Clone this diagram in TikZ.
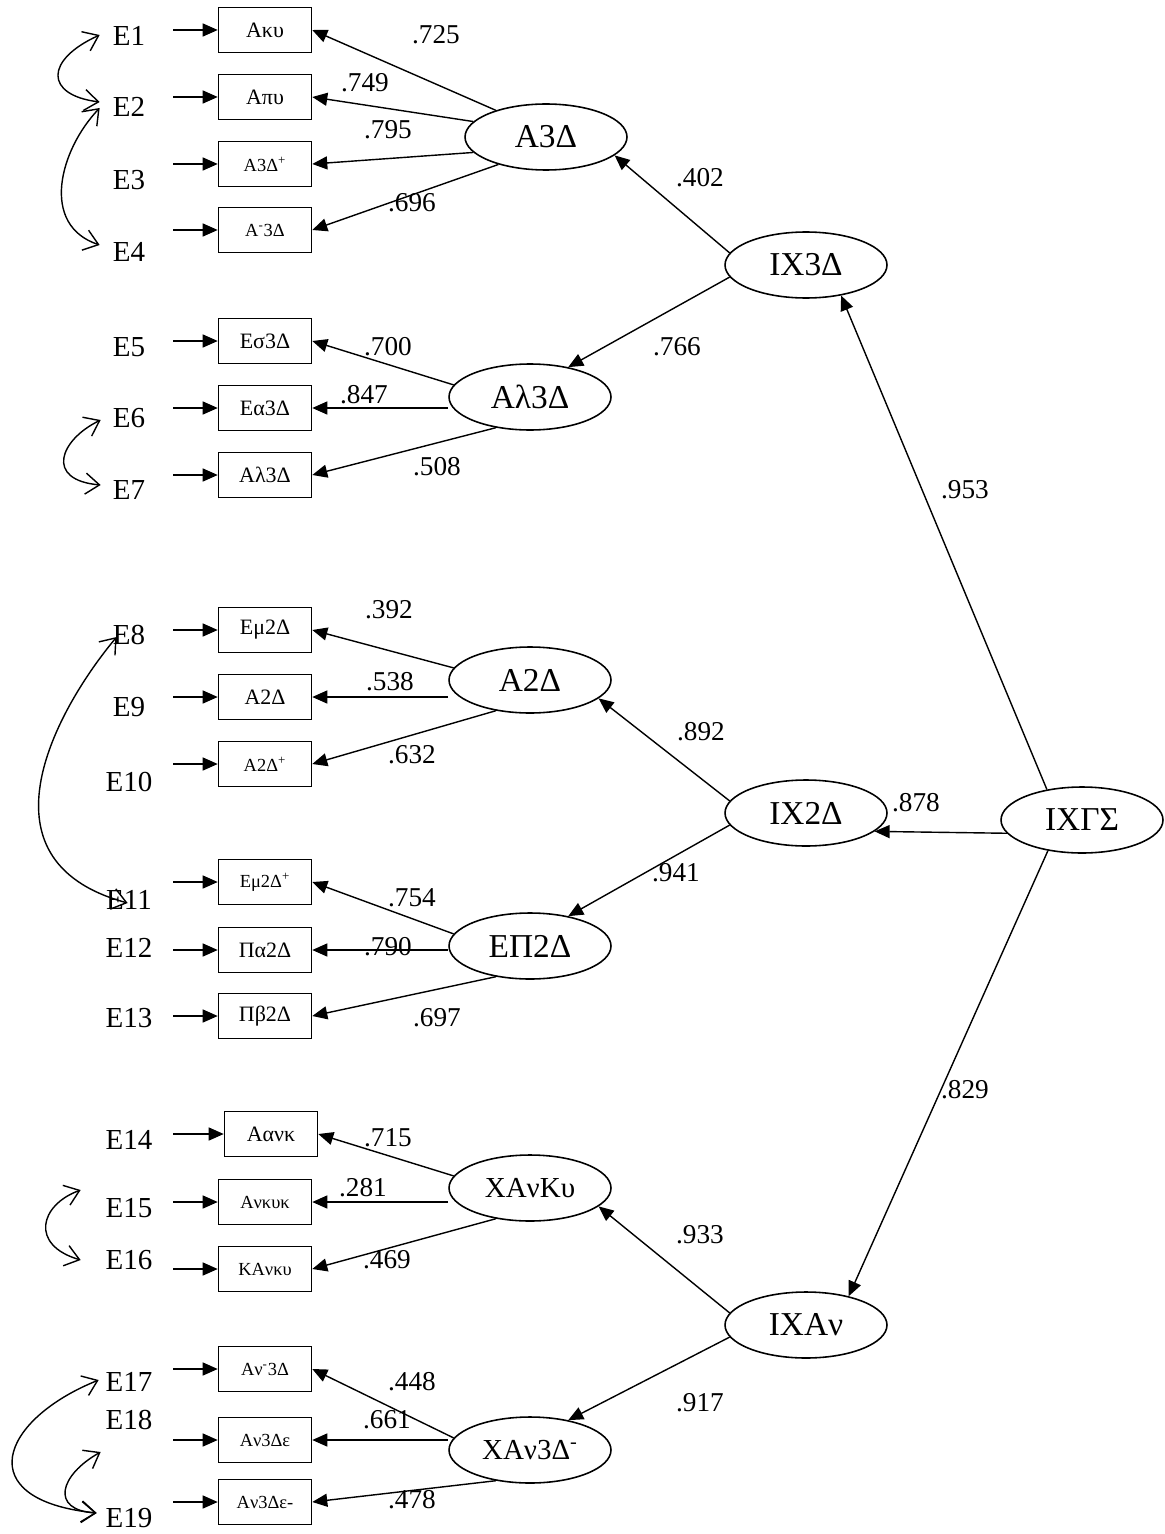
\documentclass[tikz,border=0pt]{standalone}
\usepackage{fontspec}
\setmainfont{Liberation Serif}
\usetikzlibrary{arrows.meta, shapes.geometric, calc}
\newcommand{\sbfont}{\fontsize{10.5}{12}\selectfont}

\begin{document}
\begin{tikzpicture}[x=0.02cm, y=-0.02cm,
  enode/.style={inner sep=0, minimum width=1.76cm, font=\fontsize{16.5}{18}\selectfont},
  mbox/.style={draw, line width=0.9pt, minimum width=1.86cm, minimum height=0.9cm, inner sep=0, font=\fontsize{12.5}{14}\selectfont},
  lat/.style={draw, ellipse, line width=0.9pt, minimum width=3.24cm, minimum height=1.32cm, inner sep=0, font=\fontsize{19}{22}\selectfont},
  coef/.style={inner sep=0, font=\fontsize{15.5}{18}\selectfont},
  arr/.style={-{Triangle[length=0.3cm,width=0.26cm]}, line width=0.8pt},
  cov/.style={<->, >={Straight Barb[length=0.28cm,width=0.42cm]}, line width=0.8pt}]
  \useasboundingbox (0,0) rectangle (1165,1534);

  % error terms
  \foreach \i/\y in {1/36, 2/107, 3/180, 4/252, 5/347, 6/418, 7/490, 8/635, 9/707, 10/782,
                     11/900, 12/948, 13/1018, 14/1140, 15/1208, 16/1260, 17/1382, 18/1420, 19/1518} {
    \node[enode] (e\i) at (129,\y) {E\i};
  }

  % observed variables
  \foreach \i/\x/\y/\t in {1/265/30/{Aκυ}, 2/265/97/{Aπυ}, 3/265/164/{\sbfont A3Δ\textsuperscript{+}},
      4/265/230/{\sbfont A\textsuperscript{-}3Δ}, 5/265/341/{Eσ3Δ}, 6/265/408/{Eα3Δ}, 7/265/475/{Aλ3Δ},
      8/265/630/{Eμ2Δ}, 9/265/697/{A2Δ}, 10/265/764/{\sbfont A2Δ\textsuperscript{+}},
      11/265/882/{\sbfont Eμ2Δ\textsuperscript{+}}, 12/265/950/{Πα2Δ}, 13/265/1016/{Πβ2Δ},
      14/271/1134/{Aανκ}, 15/265/1202/{\sbfont Aνκυκ}, 16/265/1269/{\sbfont KAνκυ},
      17/265/1369/{\sbfont Aν\textsuperscript{-}3Δ}, 18/265/1440/{\sbfont Aν3Δε}, 19/265/1502/{\sbfont Aν3Δε-}} {
    \node[mbox] (m\i) at (\x,\y) {\t};
    \draw[arr] (e\i.east |- m\i.west) -- (m\i.west);
  }

  % latent variables
  \node[lat] (A3D) at (546,137) {A3Δ};
  \node[lat] (Al3D) at (530,397) {Aλ3Δ};
  \node[lat] (A2D) at (530,680) {A2Δ};
  \node[lat] (EP2D) at (530,946) {EΠ2Δ};
  \node[lat] (XAK) at (530,1188) {\fontsize{16.5}{18}\selectfont XAνKυ};
  \node[lat] (XA3) at (530,1450) {\fontsize{16.5}{18}\selectfont XAν3Δ\textsuperscript{-}};
  \node[lat] (IX3) at (806,265) {IX3Δ};
  \node[lat] (IX2) at (806,813) {IX2Δ};
  \node[lat] (IXA) at (806,1325) {IXAν};
  \node[lat] (IXGS) at (1082,820) {IXΓΣ};

  % loadings
  \draw[arr] (A3D.152) -- (m1.east);
  \draw[arr] (A3D.168) -- (m2.east);
  \draw[arr] (A3D.192) -- (m3.east);
  \draw[arr] (A3D.210) -- (m4.east);
  \foreach \l/\a/\b/\c in {Al3D/5/6/7, A2D/8/9/10, EP2D/11/12/13, XAK/14/15/16, XA3/17/18/19} {
    \draw[arr] (\l.171) -- (m\a.east);
    \draw[arr] (\l.west |- m\b.east) -- (m\b.east);
    \draw[arr] (\l.222) -- (m\c.east);
  }
  \foreach \h/\u/\d in {IX3/A3D/Al3D, IX2/A2D/EP2D, IXA/XAK/XA3} {
    \draw[arr] (\h.171) -- (\u.345);
    \draw[arr] (\h.189) -- (\d.38);
  }
  \draw[arr] (IXGS.139) -- (IX3.319);
  \draw[arr] (IXGS.190) -- (IX2.345);
  \draw[arr] (IXGS.222) -- (IXA.34);

  % correlated errors
  \draw[cov] ($(e1.west)+(15,-1)$) .. controls +(-55,25) and +(-55,-7) .. ($(e2.west)+(15,-5)$);
  \draw[cov] ($(e2.west)+(15,1)$) .. controls +(-40,42) and +(-60,-20) .. ($(e4.west)+(15,-7)$);
  \draw[cov] ($(e6.west)+(16,2)$) .. controls +(-41,20) and +(-56,-5) .. ($(e7.west)+(16,-5)$);
  \draw[cov] ($(e8.west)+(32,2)$) .. controls +(-57,68) and +(-158,-43) .. ($(e11.west)+(43,3)$);
  \draw[cov] ($(e15.west)+(-4,-18)$) .. controls +(-41,15) and +(-51,-15) .. ($(e16.west)+(-4,0)$);
  \draw[cov] ($(e17.west)+(14,-2)$) .. controls +(-99,40) and +(-127,-13) .. ($(e19.west)+(12,-5)$);
  \draw[cov] ($(e18.west)+(16,32)$) .. controls +(-41,23) and +(-47,-3) .. ($(e19.west)+(12,-5)$);

  % coefficients
  \node[coef] (c1) at (436,35) {.725};
  \node[coef] (c2) at (365,83) {.749};
  \node[coef] (c3) at (388,130) {.795};
  \node[coef] (c4) at (412,203) {.696};
  \node[coef] (c5) at (388,347) {.700};
  \node[coef] (c6) at (364,395) {.847};
  \node[coef] (c7) at (437,467) {.508};
  \node[coef] (c8) at (389,610) {.392};
  \node[coef] (c9) at (390,682) {.538};
  \node[coef] (c10) at (412,755) {.632};
  \node[coef] (c11) at (412,898) {.754};
  \node[coef] (c12) at (388,947) {.790};
  \node[coef] (c13) at (437,1018) {.697};
  \node[coef] (c14) at (388,1138) {.715};
  \node[coef] (c15) at (363,1188) {.281};
  \node[coef] (c16) at (387,1260) {.469};
  \node[coef] (c17) at (412,1382) {.448};
  \node[coef] (c18) at (387,1420) {.661};
  \node[coef] (c19) at (412,1500) {.478};
  \node[coef] (g1) at (700,178) {.402};
  \node[coef] (g2) at (677,347) {.766};
  \node[coef] (g3) at (701,732) {.892};
  \node[coef] (g4) at (676,873) {.941};
  \node[coef] (g5) at (700,1235) {.933};
  \node[coef] (g6) at (700,1403) {.917};
  \node[coef] (h1) at (965,490) {.953};
  \node[coef] (h2) at (916,803) {.878};
  \node[coef] (h3) at (965,1090) {.829};
\end{tikzpicture}
\end{document}
